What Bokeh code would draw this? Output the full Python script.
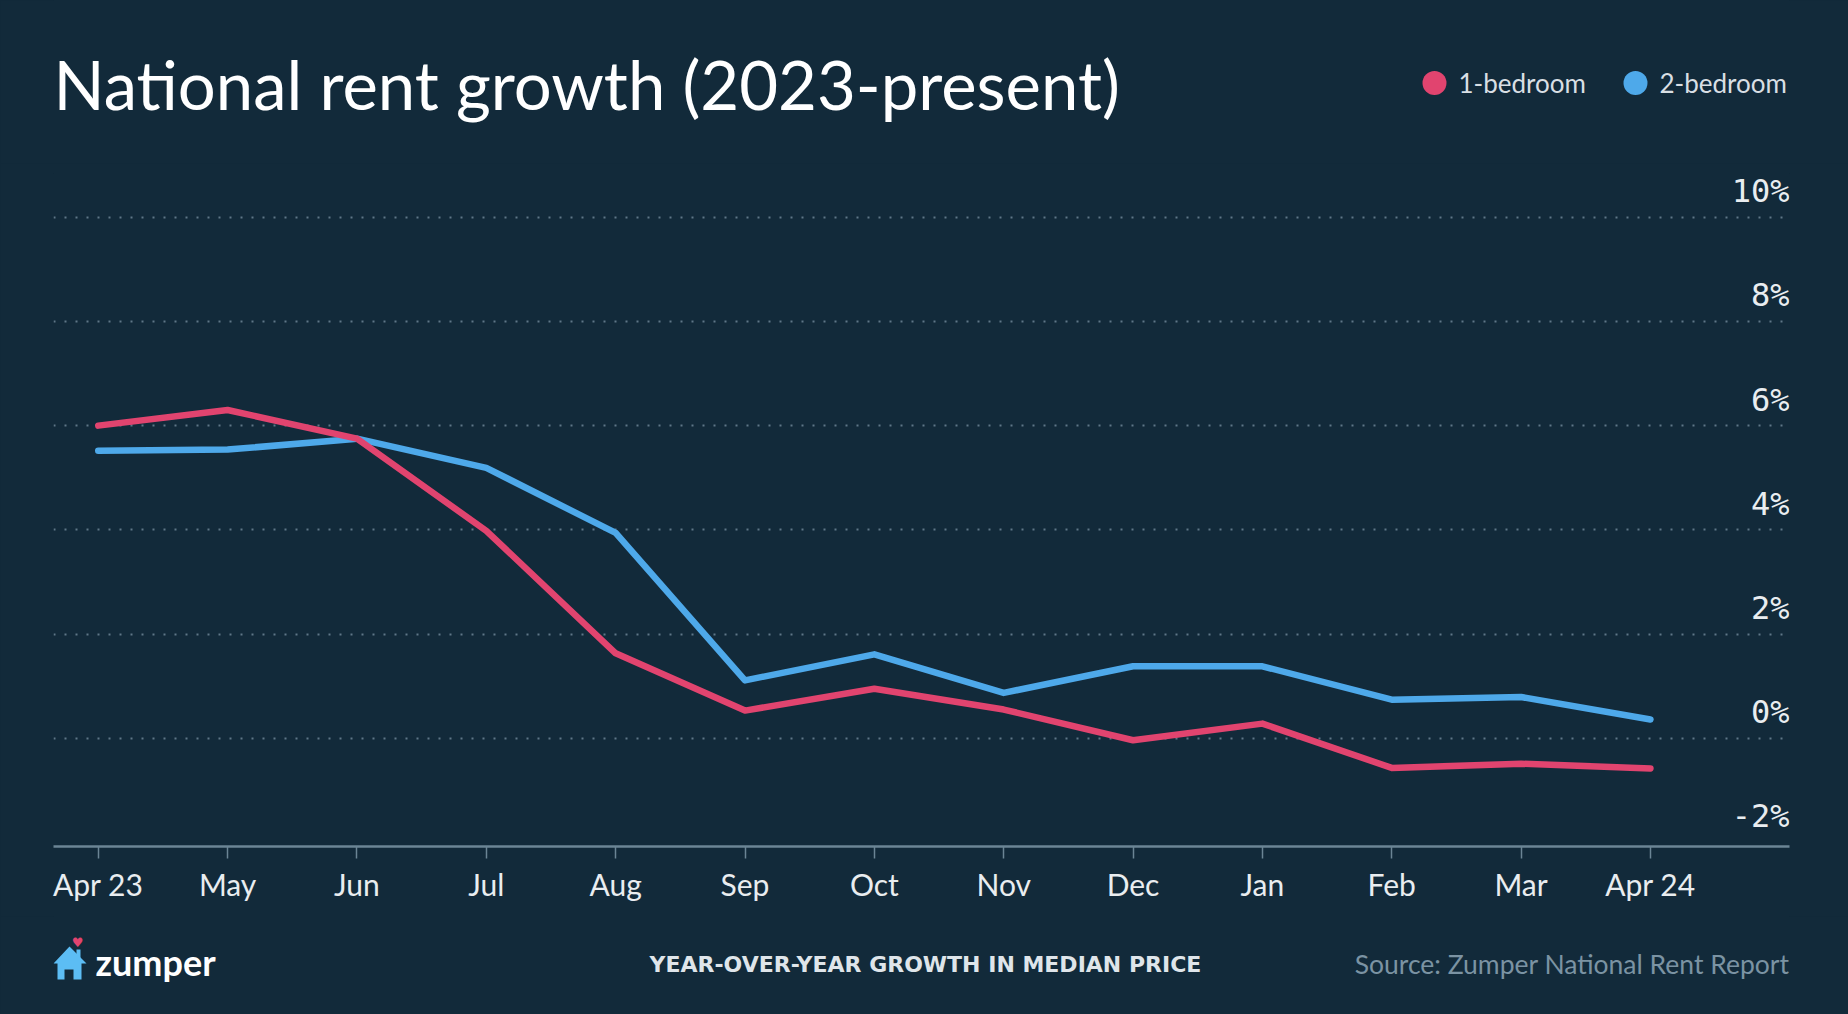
from bokeh.plotting import figure
from bokeh.layouts import column
from bokeh.models import Range1d, FixedTicker, ColumnDataSource
from bokeh.core.properties import value
from bokeh.embed import file_html
from bokeh.resources import INLINE

# ---------------- data ----------------
months = ["Apr 23", "May", "Jun", "Jul", "Aug", "Sep", "Oct", "Nov", "Dec", "Jan", "Feb", "Mar", "Apr 24"]
one_bedroom = [6.0, 6.3, 5.75, 3.98, 1.63, 0.53, 0.95, 0.55, -0.04, 0.28, -0.57, -0.49, -0.58]
two_bedroom = [5.52, 5.54, 5.75, 5.19, 3.94, 1.11, 1.61, 0.87, 1.38, 1.38, 0.74, 0.79, 0.36]
y_ticks = [-2, 0, 2, 4, 6, 8, 10]
y_tick_labels = ["-2%", "0%", "2%", "4%", "6%", "8%", "10%"]
grid_ticks = [0, 2, 4, 6, 8, 10]
series_names = ["1-bedroom", "2-bedroom"]

title_text = "National rent growth (2023-present)"
footer_center = "YEAR-OVER-YEAR GROWTH IN MEDIAN PRICE"
footer_source = "Source: Zumper National Rent Report"
brand = "zumper"

# ---------------- style ----------------
BG = "#122a3a"
PINK = "#e1446f"
BLUE = "#4ea9ea"
AXIS = "#6b8595"
GRID = "#5f7787"
TXT = "#e9edf0"
SRC = "#7b93a3"
FONT = "Lato"
W = 1848
LEFT, RIGHT = 53, 59
HEAD_H = 163
MAIN_H = 753
FOOT_H = 98


def blank(h):
    f = figure(width=W, height=h, x_range=Range1d(LEFT, W - RIGHT), y_range=Range1d(0, h),
               output_backend="svg", toolbar_location=None,
               x_axis_location=None, y_axis_location=None,
               min_border_left=LEFT, min_border_right=RIGHT, min_border_top=0, min_border_bottom=0)
    f.background_fill_color = BG
    f.border_fill_color = BG
    f.outline_line_color = None
    f.grid.visible = False
    return f


# ---------------- header ----------------
head = blank(HEAD_H)
head.text(x=[53], y=[79.5], text=[title_text], text_font=value(FONT),
          text_font_size="67px", text_color="#ffffff", text_baseline="middle",
          text_align="left")
leg_x = [1434, 1635]
head.scatter(x=leg_x, y=[80.5, 80.5], size=24, color=[PINK, BLUE], line_color=None)
head.text(x=[xx + 24 for xx in leg_x], y=[80.5, 80.5], text=series_names, text_font=value(FONT),
          text_font_size="26px", text_color="#d9dfe4", text_baseline="middle", text_align="left")

# ---------------- main chart ----------------
x = list(range(len(months)))
p = figure(width=W, height=MAIN_H, x_range=Range1d(-0.346, 13.075), y_range=Range1d(-2.079, 10.84),
           output_backend="svg", toolbar_location=None, y_axis_location=None,
           min_border_left=LEFT, min_border_right=RIGHT, min_border_top=10, min_border_bottom=70)
p.background_fill_color = BG
p.border_fill_color = BG
p.outline_line_color = None

p.xgrid.visible = False
p.ygrid.ticker = FixedTicker(ticks=grid_ticks)
p.ygrid.grid_line_color = GRID
p.ygrid.grid_line_width = 2
p.ygrid.grid_line_dash = "2 9"

ax = p.xaxis[0]
ax.ticker = FixedTicker(ticks=x)
ax.major_label_overrides = {i: m for i, m in enumerate(months)}
ax.axis_line_color = AXIS
ax.axis_line_width = 2.5
ax.major_tick_line_color = AXIS
ax.major_tick_line_width = 1.5
ax.major_tick_out = 12
ax.major_tick_in = 0
ax.minor_tick_line_color = None
ax.major_label_text_font = FONT
ax.major_label_text_font_size = "30px"
ax.major_label_text_color = TXT
ax.major_label_standoff = 7

src = ColumnDataSource(dict(x=x, one=one_bedroom, two=two_bedroom))
p.line("x", "two", source=src, line_color=BLUE, line_width=6.5, line_cap="round", line_join="round")
p.line("x", "one", source=src, line_color=PINK, line_width=6.5, line_cap="round", line_join="round")

p.text(x=[13.075] * len(y_ticks), y=y_ticks, text=y_tick_labels, text_font=value("DejaVu Sans Mono"),
       text_font_size="32px", text_color=TXT, text_align="right", text_baseline="middle",
       y_offset=-26)

# ---------------- footer ----------------
foot = blank(FOOT_H)


def fy(Y):
    return 1014 - Y


house_X = [69, 86, 81, 81, 73, 73, 64, 64, 57, 57, 53]
house_Y = [946, 963, 963, 979, 979, 969, 969, 979, 979, 963, 963]
foot.patch(house_X, [fy(Y) for Y in house_Y], color="#5cbdf4", line_color=None)
foot.quad(left=[76], right=[80], top=[fy(949)], bottom=[fy(958)], color="#5cbdf4", line_color=None)
foot.text(x=[77], y=[fy(942)], text=["\u2665"], text_font=value("DejaVu Sans"),
          text_font_size="13px", text_color=PINK, text_align="center", text_baseline="middle")
foot.text(x=[95], y=[fy(961)], text=[brand], text_font=value(FONT), text_font_style="bold",
          text_font_size="36px", text_color="#ffffff", text_baseline="middle", text_align="left")
foot.text(x=[649], y=[fy(964)], text=[footer_center], text_font=value("DejaVu Sans"), text_font_style="bold",
          text_font_size="22px", text_color="#dfe5ea", text_baseline="middle", text_align="left")
foot.text(x=[1789], y=[fy(963)], text=[footer_source], text_font=value(FONT),
          text_font_size="26.5px", text_color=SRC, text_baseline="middle", text_align="right")

layout = column(head, p, foot, spacing=0)

html = file_html(layout, INLINE)
html = html.replace("<head>", "<head><style>html,body{background:%s;}</style>" % BG, 1)
open("out.html", "w").write(html)
